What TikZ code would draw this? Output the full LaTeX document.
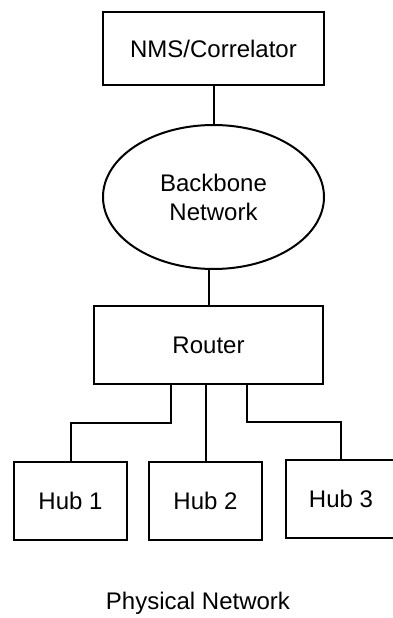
\documentclass[tikz,border=0pt]{standalone}
\usepackage{fontspec}
\setmainfont{Liberation Sans}
\usetikzlibrary{positioning,shapes.geometric}

\begin{document}
\begin{tikzpicture}[
    x=1pt,
    y=-1pt,
    font=\fontsize{24}{29}\selectfont,
    box/.style={
        draw,
        line width=2pt,
        minimum width=113pt,
        minimum height=78pt,
        align=center
    },
    cloud/.style={
        ellipse,
        draw,
        line width=2pt,
        minimum width=221pt,
        minimum height=144pt,
        align=center
    },
    link/.style={line width=2pt}
]
\useasboundingbox (0,0) rectangle (393,618);

% ============================================================
% UPPER PART
% ============================================================
\node[box, minimum width=221pt, minimum height=73pt] (nms) at (213.5,48.5) {NMS/Correlator};
\node[cloud, below=38pt of nms] (bb) {Backbone\\Network};
\node[box, minimum width=229pt, below=35pt of bb, xshift=-5pt] (router) {Router};

\draw[link] (nms) -- (bb);
\draw[link] (router.north) -- (router.north |- bb.south);

% ============================================================
% HUBS
% ============================================================
\node[box, below=76pt of router, xshift=-3pt] (hub2) {Hub 2};
\node[box, left=20pt of hub2] (hub1) {Hub 1};
\node[box, minimum width=110pt, right=22pt of hub2, yshift=2pt] (hub3) {Hub 3};

\draw[link] ([xshift=-38pt]router.south) -- ++(0,38) -| (hub1.north);
\draw[link] (hub2.north |- router.south) -- (hub2.north);
\draw[link] ([xshift=38pt]router.south) -- ++(0,37) -| (hub3.north);

% caption
\node (caption) at (198,603) {Physical Network};

\end{tikzpicture}
\end{document}
